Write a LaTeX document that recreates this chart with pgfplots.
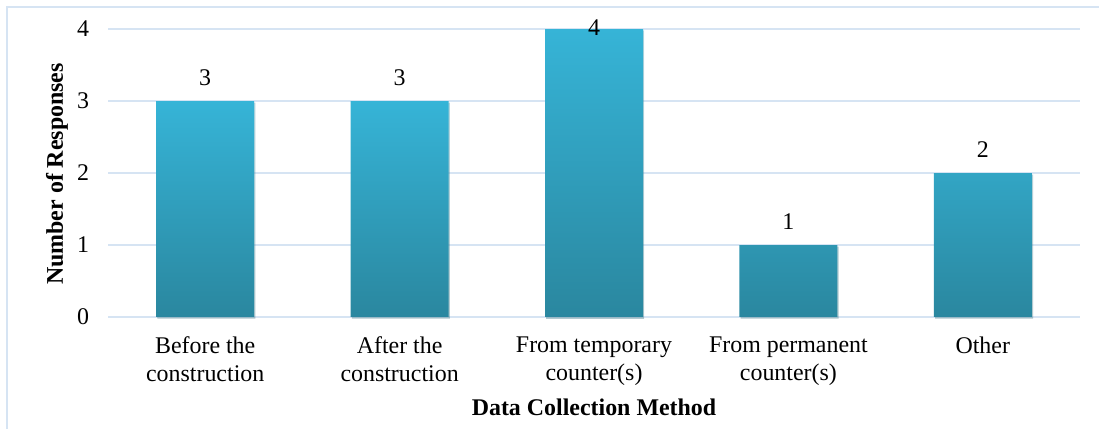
\documentclass[border=0pt]{standalone}
\usepackage{pgfplots}
\pgfplotsset{compat=1.18}
\usepackage{fontspec}
\setmainfont{Liberation Serif}
\usetikzlibrary{shadows}
\definecolor{gridc}{HTML}{D6E4F3}
\definecolor{bartop}{HTML}{36B4D7}
\definecolor{barbot}{HTML}{2A879F}
\begin{document}
\begin{tikzpicture}
\path[use as bounding box] (0,0) rectangle (549.5bp,214.5bp);
\draw[gridc, line width=0.8bp] (3.5bp,0) -- (3.5bp,211bp) -- (560bp,211bp);
\begin{axis}[
  at={(54bp,56bp)}, anchor=south west,
  scale only axis, width=486bp, height=144bp,
  xmin=-0.5, xmax=4.5, ymin=0, ymax=4,
  ybar, bar width=49bp,
  axis x line*=bottom, axis y line*=left,
  y axis line style={draw=none},
  x axis line style={gridc, line width=0.8bp, -},
  ytick={0,1,2,3,4}, xtick={0,1,2,3,4},
  xticklabels={{Before the\\construction},{After the\\construction},{From temporary\\counter(s)},{From permanent\\counter(s)},{Other}},
  ymajorgrids, grid style={gridc, line width=0.8bp},
  major tick length=0pt,
  tick style={draw=none},
  font=\fontsize{12}{14}\selectfont,
  /pgf/number format/assume math mode=true,
  yticklabel style={xshift=-6bp},
  xticklabel style={align=center, yshift=-6.5bp},
  clip=false,
]
\addplot[draw=none, top color=bartop, bottom color=barbot, bar shift=0pt,
  drop shadow={shadow xshift=0.6bp, shadow yshift=-0.8bp, opacity=0.25},
  nodes near coords, every node near coord/.append style={black, font=\fontsize{12}{14}\selectfont, yshift=4bp}]
  coordinates {(0,3) (1,3) (3,1) (4,2)};
\addplot[draw=none, top color=bartop, bottom color=barbot, bar shift=0pt,
  drop shadow={shadow xshift=0.6bp, shadow yshift=-0.8bp, opacity=0.25},
  nodes near coords, every node near coord/.append style={black, font=\fontsize{12}{14}\selectfont, yshift=-7bp}]
  coordinates {(2,4)};
\end{axis}
\node[rotate=90, font=\fontsize{12}{14}\selectfont\bfseries] at (28.5bp,127.5bp) {Number of Responses};
\node[font=\fontsize{12}{14}\selectfont\bfseries] at (297bp,11bp) {Data Collection Method};
\end{tikzpicture}
\end{document}
